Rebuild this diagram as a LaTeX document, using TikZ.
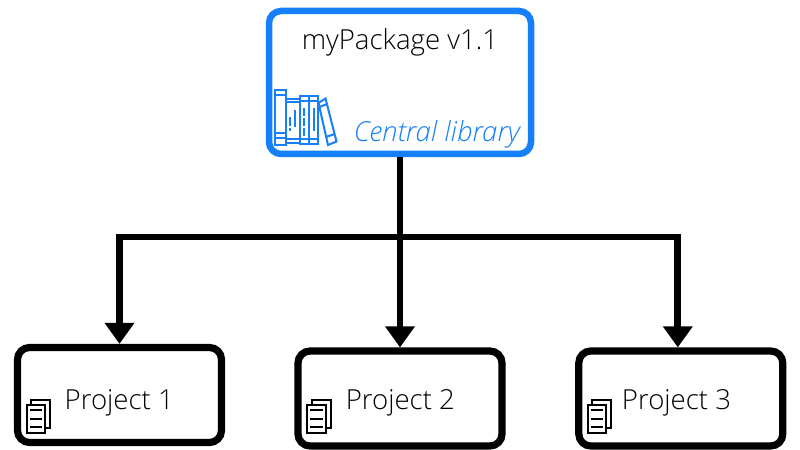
\documentclass[tikz,border=0pt]{standalone}
\usepackage{fontspec}
\setmainfont{Open Sans Light}
\usetikzlibrary{arrows.meta}
\definecolor{libblue}{HTML}{1580FA}
\tikzset{
  x=1bp,y=-1bp,
  boxstyle/.style={draw=black,line width=7.2bp,rounded corners=12bp,fill=white,inner sep=0pt,minimum height=95bp,minimum width=204bp},
  mainbox/.style={boxstyle,draw=libblue,line width=6.5bp,minimum width=262bp,minimum height=143bp},
  label/.style={font=\fontsize{27.6bp}{30bp}\selectfont,inner sep=0pt,text=black},
  sublabel/.style={font=\fontsize{27.6bp}{30bp}\selectfont\itshape,inner sep=0pt,text=libblue},
  link/.style={draw=black,line width=6.7bp},
  arrowlink/.style={link,-{Triangle[width=28.5bp,length=21bp]}},
  bookline/.style={draw=libblue,line width=2bp,line join=miter},
  docline/.style={draw=black,line width=2bp,fill=white},
}
\newcommand{\docicon}[2]{%
  \begin{scope}[shift={(#1,#2)}]
    \draw[docline] (31,400) rectangle (50,427.5);
    \draw[docline] (26.5,405) rectangle (45,433);
    \draw[docline] (29.5,410) -- (42,410) (29.5,418.5) -- (42,418.5) (29.5,427) -- (42,427);
  \end{scope}}
\begin{document}
\begin{tikzpicture}
\useasboundingbox (0,0) rectangle (800,450);
\fill[white] (0,0) rectangle (800,450);
\node[mainbox] (main) at (400,82.5) {};
\node[boxstyle] (p1) at (119.5,395) {};
\node[boxstyle] (p2) at (400,398.5) {};
\node[boxstyle] (p3) at (680.8,398.5) {};
\coordinate (bus) at (400,237);
\draw[link] (main.south) -- (bus);
\draw[arrowlink] (bus) -- (p2.north);
\draw[arrowlink] (bus) -| (p1.north);
\draw[arrowlink] (bus) -| ([xshift=-3bp]p3.north);
\node[label] (t0) at (400,42) {myPackage v1.1};
\node[sublabel] (t4) at (437,134) {Central library};
\node[label] (t1) at (119.3,403) {Project 1};
\node[label] (t2) at (400.4,403) {Project 2};
\node[label] (t3) at (676.5,403) {Project 3};
% books
\draw[bookline] (274.5,90) rectangle (285.5,145);
\draw[bookline] (274.5,95) -- (285.5,95) (274.5,133.5) -- (285.5,133.5) (274.5,138.5) -- (285.5,138.5);
\draw[bookline] (285.5,99) rectangle (299.5,143.5);
\draw[bookline] (285.5,102) -- (299.5,102) (285.5,139.5) -- (299.5,139.5);
\draw[bookline] (295,110) -- (295,127) (290,117) -- (290,126) (290,128.5) -- (290,131);
\draw[bookline] (299.5,96.5) rectangle (309,144);
\draw[bookline] (299.5,101) -- (309,101) (299.5,139.5) -- (309,139.5);
\draw[bookline,dash pattern=on 8bp off 2bp] (304.2,108) -- (304.2,138);
\draw[bookline] (309,96.5) rectangle (318,144);
\draw[bookline] (309,101) -- (318,101) (309,139.5) -- (318,139.5);
\draw[bookline] (313.5,108) -- (313.5,131);
\draw[bookline] (318.5,103) -- (325.5,98.5) -- (336.5,141.5) -- (328,145) -- cycle;
\draw[bookline] (319.5,107) -- (327,104) (326,137) -- (334.5,134);
\docicon{0}{0}
\docicon{280.5}{0}
\docicon{561}{0}
\end{tikzpicture}
\end{document}
